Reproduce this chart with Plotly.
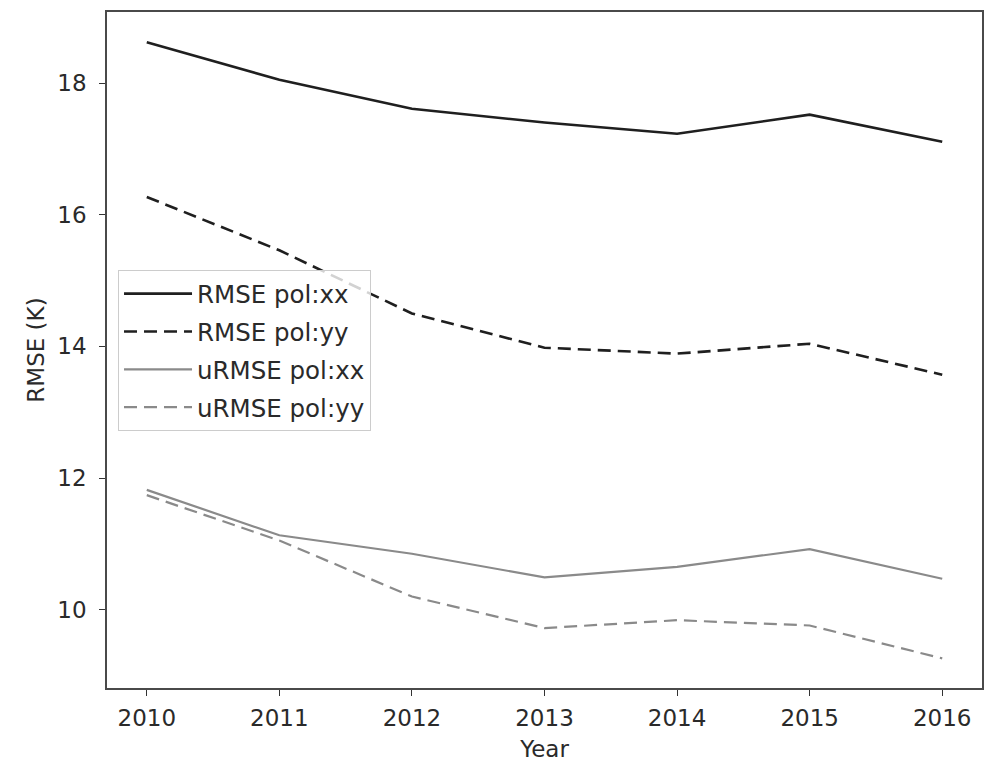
import plotly.graph_objects as go

years = [2010, 2011, 2012, 2013, 2014, 2015, 2016]
rmse_xx = [18.62, 18.05, 17.61, 17.40, 17.23, 17.52, 17.11]
rmse_yy = [16.27, 15.46, 14.50, 13.98, 13.89, 14.04, 13.57]
urmse_xx = [11.82, 11.13, 10.85, 10.49, 10.65, 10.92, 10.47]
urmse_yy = [11.74, 11.05, 10.20, 9.72, 9.84, 9.76, 9.26]

names = ["RMSE pol:xx", "RMSE pol:yy", "uRMSE pol:xx", "uRMSE pol:yy"]
series = [rmse_xx, rmse_yy, urmse_xx, urmse_yy]
colors = ["#1f1f1f", "#1f1f1f", "#8a8a8a", "#8a8a8a"]
widths = [2.6, 2.6, 2.2, 2.2]
dashes = ["solid", "13px,7px", "solid", "13px,7px"]

font = dict(family="DejaVu Sans", size=23, color="#2a2a2a")
legend_font = dict(family="DejaVu Sans", size=24.5, color="#2a2a2a")

fig = go.Figure()
for i, (name, ys) in enumerate(zip(names, series)):
    fig.add_trace(
        go.Scatter(
            x=years,
            y=ys,
            mode="lines",
            name=name,
            legendgroup=f"g{i}",
            line=dict(color=colors[i], width=widths[i], dash=dashes[i]),
        )
    )

axis_common = dict(
    showgrid=False,
    zeroline=False,
    showline=True,
    linecolor="#4a4a4a",
    linewidth=1.6,
    mirror=True,
    ticks="outside",
    ticklen=6,
    tickwidth=1.4,
    tickcolor="#333333",
    tickfont=font,
)

# the page body adds an 8px offset, so margins are shifted to compensate
fig.update_layout(
    width=995,
    height=766,
    margin=dict(l=99, r=21, t=2, b=86),
    paper_bgcolor="white",
    plot_bgcolor="white",
    font=font,
    xaxis=dict(
        range=[2009.7, 2016.3],
        tickvals=years,
        ticklabelstandoff=3,
        title=dict(text="Year", font=font, standoff=10),
        **axis_common,
    ),
    yaxis=dict(
        range=[8.81, 19.08],
        tickvals=[10, 12, 14, 16, 18],
        ticklabelstandoff=8,
        title=dict(text="RMSE (K)", font=font, standoff=6),
        **axis_common,
    ),
    legend=dict(
        x=0.0126,
        y=0.618,
        xanchor="left",
        yanchor="top",
        bgcolor="rgba(255,255,255,0.8)",
        bordercolor="#cccccc",
        borderwidth=1,
        font=legend_font,
        tracegroupgap=3,
        itemwidth=68,
    ),
    showlegend=True,
)

fig.write_html("out.html")
